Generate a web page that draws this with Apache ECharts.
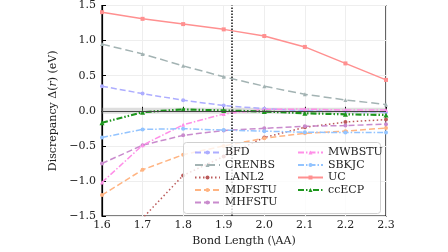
<!DOCTYPE html>
<html>
<head>
<meta charset="utf-8">
<script src="https://cdn.jsdelivr.net/npm/echarts@6.0.0/dist/echarts.min.js"></script>
<style>
  html, body { margin: 0; padding: 0; background: #fff; }
  #chart { width: 448px; height: 252px; }
</style>
</head>
<body>
<div id="chart"></div>
<script>
// Bond lengths (Å) and per-ECP discrepancy Δ(r) in eV.
const bondLength = [1.6, 1.7, 1.8, 1.9, 2.0, 2.1, 2.2, 2.3];
const BFD    = [0.35, 0.245, 0.15, 0.075, 0.03, 0.0, -0.01, -0.02];
const CRENBS = [0.95, 0.81, 0.64, 0.485, 0.35, 0.235, 0.155, 0.09];
const LANL2  = [-2.6, -1.53, -0.92, -0.65, -0.38, -0.235, -0.16, -0.125];
const MDFSTU = [-1.2, -0.84, -0.625, -0.5, -0.39, -0.32, -0.29, -0.245];
const MHFSTU = [-0.75, -0.49, -0.35, -0.28, -0.25, -0.22, -0.21, -0.19];
const MWBSTU = [-1.02, -0.49, -0.2, -0.045, 0.02, 0.025, 0.01, 0.01];
const SBKJC  = [-0.38, -0.265, -0.255, -0.275, -0.29, -0.305, -0.31, -0.31];
const UC     = [1.405, 1.31, 1.235, 1.16, 1.065, 0.91, 0.675, 0.44];
const ccECP  = [-0.17, -0.02, 0.02, 0.005, -0.01, -0.035, -0.05, -0.06];

const eqBond = 1.923;        // dotted vertical reference
const chemAcc = 0.043;       // grey band, ±1 kcal/mol
const legendCol1 = ["BFD", "CRENBS", "LANL2", "MDFSTU", "MHFSTU"];
const legendCol2 = ["MWBSTU", "SBKJC", "UC", "ccECP"];

const FONT = "DejaVu Serif";
const fmt = (v) => v.toFixed(1).replace("-", "\u2212");

// name, values, colour, dash, symbol
const specs = [
  ["BFD", BFD, "#adadff", [6, 3], "circle"],
  ["CRENBS", CRENBS, "#a3b3b3", [8, 4], "triangle"],
  ["LANL2", LANL2, "#bb5a5a", [1.5, 2.5], "circle"],
  ["MDFSTU", MDFSTU, "#ffb482", [6, 3], "circle"],
  ["MHFSTU", MHFSTU, "#c98bcd", [6, 3], "circle"],
  ["MWBSTU", MWBSTU, "#ff8fe8", [6, 2, 1.5, 2], "triangle"],
  ["SBKJC", SBKJC, "#93c4ff", [6, 2, 1.5, 2], "circle"],
  ["UC", UC, "#ff9090", "solid", "rect"],
  ["ccECP", ccECP, "#1d961d", [6, 2, 1.5, 2, 1.5, 2], "triangle"],
];

const series = specs.map(([name, vals, color, dash, symbol]) => ({
  name,
  type: "line",
  color,
  symbol,
  symbolSize: name === "ccECP" ? 5 : 4,
  lineStyle: { width: name === "ccECP" ? 2.2 : 1.5, type: dash },
  data: bondLength.map((x, i) => [x, vals[i]]),
  z: 3,
}));

// reference band, zero line and equilibrium marker ride on an empty series
series.unshift({
  type: "line",
  data: [],
  silent: true,
  markArea: {
    silent: true,
    itemStyle: { color: "rgba(160,160,160,0.35)" },
    data: [[{ yAxis: -chemAcc }, { yAxis: chemAcc }]],
  },
  markLine: {
    silent: true,
    symbol: "none",
    label: { show: false },
    data: [
      { yAxis: 0, lineStyle: { color: "#444", width: 1.2, type: "solid" } },
      { xAxis: eqBond, lineStyle: { color: "#222", width: 1.6, type: [1.5, 1.5] } },
    ],
  },
  z: 2,
});

const legendBase = {
  orient: "vertical",
  itemWidth: 25,
  itemHeight: 5,
  itemGap: 1.5,
  textStyle: { fontFamily: FONT, fontSize: 11, color: "#222", padding: [0, 0, 0, 0] },
  z: 10,
};

const chart = echarts.init(document.getElementById("chart"));
chart.setOption({
  animation: false,
  grid: { left: 102, right: 62, top: 5, bottom: 32, show: true, borderColor: "#000", borderWidth: 1.2 },
  xAxis: {
    type: "value",
    min: 1.6, max: 2.3, interval: 0.1,
    name: "Bond Length (\\AA)",
    nameLocation: "middle",
    nameGap: 19,
    nameTextStyle: { fontFamily: FONT, fontSize: 11, color: "#222" },
    axisLine: { show: true, lineStyle: { color: "#000", width: 1.2 } },
    axisTick: { inside: true, length: 4, lineStyle: { color: "#000" } },
    axisLabel: { formatter: fmt, fontFamily: FONT, fontSize: 11, color: "#222", margin: 4 },
    splitLine: { show: true, lineStyle: { color: "#eeeeee" } },
  },
  yAxis: {
    type: "value",
    min: -1.5, max: 1.5, interval: 0.5,
    name: "{n|Discrepancy \u0394(}{i|r}{n|) (eV)}",
    nameLocation: "middle",
    nameGap: 33,
    nameTextStyle: {
      rich: {
        n: { fontFamily: FONT, fontSize: 11, color: "#222" },
        i: { fontFamily: FONT, fontSize: 11, color: "#222", fontStyle: "italic" },
      },
    },
    axisLine: { show: true, lineStyle: { color: "#000", width: 1.2 } },
    axisTick: { inside: true, length: 4, lineStyle: { color: "#000" } },
    axisLabel: { formatter: fmt, fontFamily: FONT, fontSize: 11, color: "#222", margin: 6 },
    splitLine: { show: true, lineStyle: { color: "#eeeeee" } },
  },
  graphic: [{
    type: "rect",
    left: 183, top: 142,
    shape: { width: 197, height: 71, r: 3 },
    style: { fill: "rgba(255,255,255,0.8)", stroke: "#d0d0d0", lineWidth: 1 },
    z: 9,
  }],
  legend: [
    { ...legendBase, left: 189, top: 142, data: legendCol1 },
    { ...legendBase, left: 292, top: 142, data: legendCol2 },
  ],
  series,
});
</script>
</body>
</html>
